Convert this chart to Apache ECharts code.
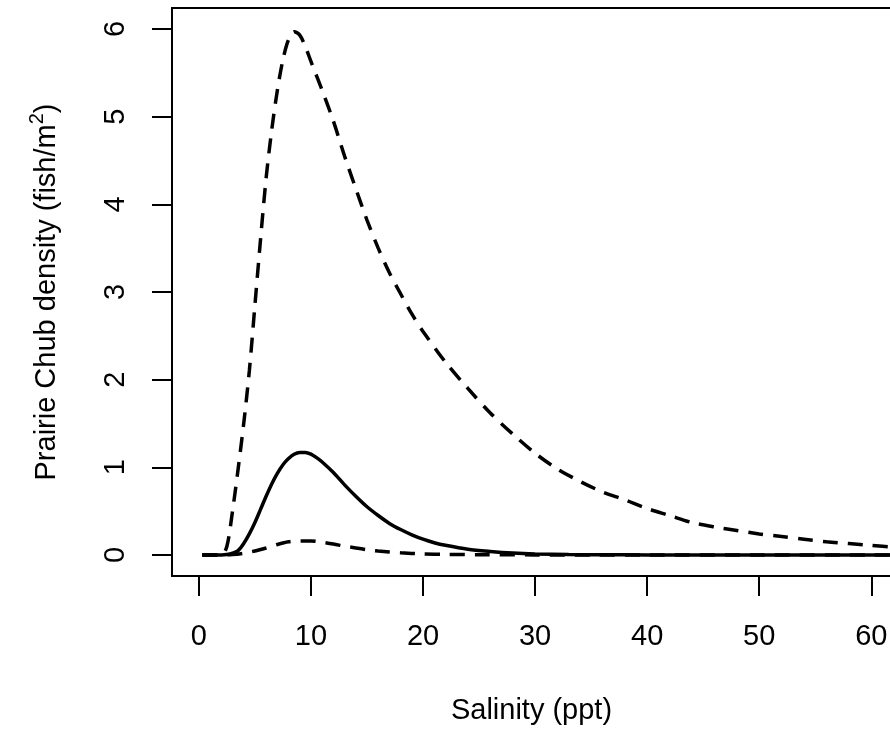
<!DOCTYPE html>
<html>
<head>
<meta charset="utf-8">
<script src="https://cdn.jsdelivr.net/npm/echarts@6/dist/echarts.min.js"></script>
<style>
html,body{margin:0;padding:0;background:#fff;}
#chart{width:890px;height:736px;}
</style>
</head>
<body>
<div id="chart"></div>
<script>
// Salinity (ppt) values and densities
const upperX = [0.3, 1, 2, 2.5, 3, 3.5, 4, 4.5, 5, 5.5, 6, 6.5, 7, 7.5, 8, 8.5, 9, 9.5, 10, 11, 12, 13, 14, 15, 16, 17, 18, 19, 20, 22, 24, 26, 28, 30, 32, 34, 36, 38, 40, 42, 44, 46, 48, 50, 52, 54, 56, 58, 60, 62, 64];
const upperY = [0, 0, 0, 0.1, 0.5, 0.98, 1.5, 2.1, 2.85, 3.6, 4.3, 4.85, 5.3, 5.65, 5.88, 5.97, 5.93, 5.8, 5.63, 5.3, 4.95, 4.55, 4.18, 3.82, 3.5, 3.22, 2.98, 2.75, 2.55, 2.2, 1.9, 1.62, 1.38, 1.16, 0.98, 0.84, 0.72, 0.63, 0.53, 0.45, 0.37, 0.32, 0.28, 0.24, 0.21, 0.18, 0.15, 0.13, 0.11, 0.09, 0.08];

const meanX = [0.3, 1, 2, 2.5, 3, 3.5, 4, 4.5, 5, 5.5, 6, 6.5, 7, 7.5, 8, 8.5, 9, 9.5, 10, 10.5, 11, 12, 13, 14, 15, 16, 17, 18, 19, 20, 21, 22, 24, 26, 28, 30, 33, 36, 40, 45, 50, 55, 60, 64];
const meanY = [0, 0, 0, 0.005, 0.02, 0.05, 0.13, 0.24, 0.37, 0.52, 0.67, 0.81, 0.93, 1.03, 1.10, 1.15, 1.17, 1.17, 1.15, 1.11, 1.06, 0.94, 0.80, 0.67, 0.55, 0.45, 0.36, 0.29, 0.23, 0.18, 0.14, 0.11, 0.065, 0.04, 0.022, 0.012, 0.005, 0.002, 0.0005, 0, 0, 0, 0, 0];

const lowerX = [0.3, 2, 3, 4, 5, 6, 7, 8, 9, 10, 11, 12, 13, 14, 15, 16, 17, 18, 20, 22, 25, 30, 35, 40, 50, 60, 64];
const lowerY = [0, 0, 0.005, 0.02, 0.045, 0.08, 0.12, 0.15, 0.16, 0.16, 0.145, 0.125, 0.10, 0.08, 0.06, 0.045, 0.033, 0.024, 0.013, 0.007, 0.003, 0.001, 0, 0, 0, 0, 0];

const xTicks = [0, 10, 20, 30, 40, 50, 60];
const yTicks = [0, 1, 2, 3, 4, 5, 6];

const xTitle = 'Salinity (ppt)';
const yTitleMain = 'Prairie Chub density (fish/m';
const yTitleSup = '2';

function pairs(xs, ys) { return xs.map((x, i) => [x, ys[i]]); }

const FONT = '"Liberation Sans", Arial, Helvetica, sans-serif';
const chart = echarts.init(document.getElementById('chart'), null, {renderer: 'canvas'});

const dashStyle = {color: '#000', width: 3.5, type: [15, 10], cap: 'butt'};

chart.setOption({
  animation: false,
  backgroundColor: '#fff',
  grid: {
    show: true, left: 172, top: 8, width: 771, height: 568,
    outerBoundsMode: 'none', containLabel: false,
    borderColor: '#000', borderWidth: 2, backgroundColor: 'transparent'
  },
  xAxis: {
    type: 'value', min: -2.4, max: 66.4,
    name: xTitle, nameLocation: 'middle', nameGap: 120,
    nameTextStyle: {fontFamily: FONT, fontSize: 29, color: '#000', padding: [0, 52, 0, 0]},
    axisLine: {show: false, onZero: false},
    splitLine: {show: false},
    axisTick: {show: true, length: 20, inside: false, customValues: xTicks, lineStyle: {color: '#000', width: 2}},
    axisLabel: {show: true, customValues: xTicks, margin: 46, fontFamily: FONT, fontSize: 29, color: '#000'}
  },
  yAxis: {
    type: 'value', min: -0.24, max: 6.24,
    name: '{a|' + yTitleMain + '}{s|' + yTitleSup + '}{a|)}',
    nameLocation: 'middle', nameGap: 111, nameRotate: 90,
    nameTextStyle: {
      fontFamily: FONT, fontSize: 29, color: '#000',
      rich: {
        a: {fontFamily: FONT, fontSize: 29, color: '#000', lineHeight: 34, verticalAlign: 'bottom'},
        s: {fontFamily: FONT, fontSize: 20, color: '#000', lineHeight: 34, verticalAlign: 'top'}
      }
    },
    axisLine: {show: false, onZero: false},
    splitLine: {show: false},
    axisTick: {show: true, length: 20, inside: false, customValues: yTicks, lineStyle: {color: '#000', width: 2}},
    axisLabel: {show: true, customValues: yTicks, rotate: 90, margin: 42, fontFamily: FONT, fontSize: 29, color: '#000'}
  },
  series: [
    {
      type: 'line', data: pairs(upperX, upperY), showSymbol: false, smooth: 0.3,
      lineStyle: dashStyle, z: 3
    },
    {
      type: 'line', data: pairs(lowerX, lowerY), showSymbol: false, smooth: 0.3,
      lineStyle: dashStyle, z: 3
    },
    {
      type: 'line', data: pairs(meanX, meanY), showSymbol: false, smooth: 0.3,
      lineStyle: {color: '#000', width: 3.5, type: 'solid'}, z: 4
    }
  ]
});
</script>
</body>
</html>
